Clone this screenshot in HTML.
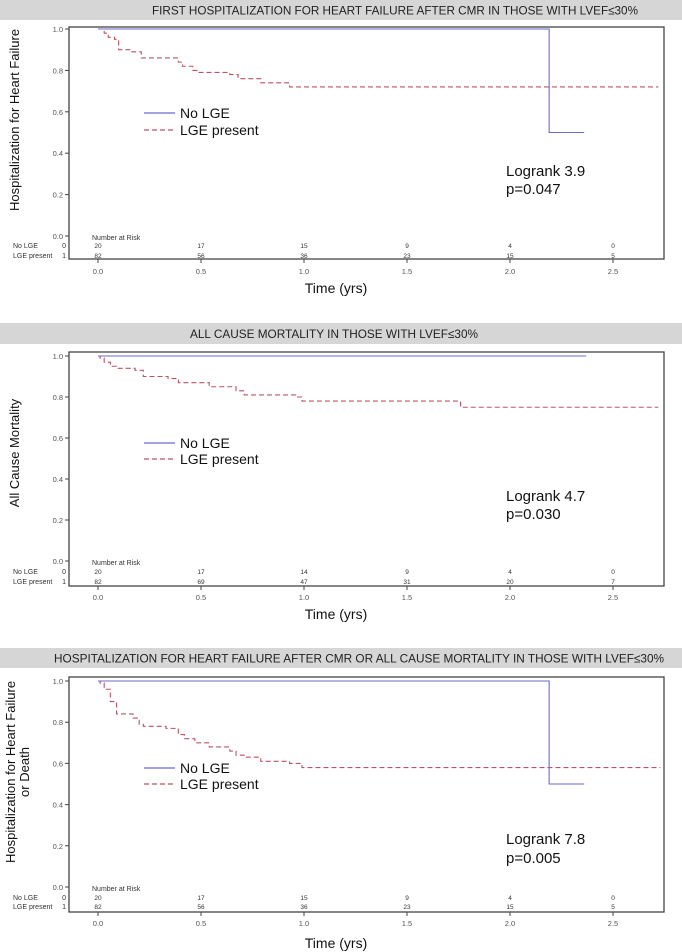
<!DOCTYPE html>
<html><head><meta charset="utf-8"><style>
html,body{margin:0;padding:0;background:#fff}
svg{display:block;font-family:"Liberation Sans",sans-serif}
</style></head><body>
<svg id="s" width="682" height="952" viewBox="0 0 682 952"></svg>
<script>
// ---- Data ----
const xTicks = [0, 0.5, 1.0, 1.5, 2.0, 2.5];
const xTickLabels = ["0.0", "0.5", "1.0", "1.5", "2.0", "2.5"];
const yTicks = [0, 0.2, 0.4, 0.6, 0.8, 1.0];
const yTickLabels = ["0.0", "0.2", "0.4", "0.6", "0.8", "1.0"];
const titles = ["FIRST HOSPITALIZATION FOR HEART FAILURE AFTER CMR IN THOSE WITH LVEF\u226430%", "ALL CAUSE MORTALITY IN THOSE WITH LVEF\u226430%", "HOSPITALIZATION FOR HEART FAILURE AFTER CMR OR ALL CAUSE MORTALITY IN THOSE WITH LVEF\u226430%"];
const yTitles = [["Hospitalization for Heart Failure"], ["All Cause Mortality"], ["Hospitalization for Heart Failure", "or Death"]];
const logranks = ["Logrank 3.9", "Logrank 4.7", "Logrank 7.8"];
const pvals = ["p=0.047", "p=0.030", "p=0.005"];
const riskNoLGE = [[20,17,15,9,4,0],[20,17,14,9,4,0],[20,17,15,9,4,0]];
const riskLGE = [[82,56,36,23,15,5],[82,69,47,31,20,7],[82,56,36,23,15,5]];
const noLgeT = [[0, 2.19, 2.36],[0, 2.37],[0, 2.19, 2.36]];
const noLgeS = [[1.0, 0.5, 0.5],[1.0, 1.0],[1.0, 0.5, 0.5]];
const lgeT1 = [0, 0.03, 0.05, 0.08, 0.10, 0.16, 0.21, 0.39, 0.41, 0.46, 0.48, 0.64, 0.68, 0.79, 0.93, 2.72];
const lgeS1 = [1.0, 0.98, 0.96, 0.95, 0.90, 0.89, 0.86, 0.84, 0.82, 0.80, 0.79, 0.78, 0.76, 0.74, 0.72, 0.72];
const lgeT2 = [0, 0.01, 0.03, 0.06, 0.09, 0.18, 0.22, 0.34, 0.39, 0.54, 0.67, 0.71, 0.96, 0.99, 1.76, 2.72];
const lgeS2 = [1.0, 0.99, 0.97, 0.95, 0.94, 0.93, 0.90, 0.89, 0.87, 0.85, 0.83, 0.81, 0.80, 0.78, 0.75, 0.75];
const lgeT3 = [0, 0.01, 0.03, 0.06, 0.09, 0.17, 0.20, 0.22, 0.33, 0.39, 0.42, 0.47, 0.54, 0.64, 0.67, 0.71, 0.79, 0.93, 0.99, 2.73];
const lgeS3 = [1.0, 0.99, 0.96, 0.90, 0.84, 0.82, 0.79, 0.78, 0.77, 0.74, 0.72, 0.70, 0.68, 0.66, 0.64, 0.63, 0.61, 0.60, 0.58, 0.58];
const lgeT = [lgeT1, lgeT2, lgeT3];
const lgeS = [lgeS1, lgeS2, lgeS3];

// ---- Layout ----
const L = [
 {band:[0,20], frame:[27,259], y1:29, y0:236, leg:[113,130], lr:[171,189], nar:[237,245,255], xl:271, tl:288, yt:120},
 {band:[323,344], frame:[352,586], y1:356, y0:561, leg:[443,459], lr:[496,514], nar:[562,571,581], xl:597, tl:614, yt:453},
 {band:[648,668], frame:[677,912], y1:681, y0:887, leg:[768,784], lr:[839,858], nar:[888,897,906], xl:923, tl:943, yt:772}
];
const NS = "http://www.w3.org/2000/svg";
const svg = document.getElementById('s');
function mk(tag, attrs, parent, text){
  const e = document.createElementNS(NS, tag);
  for (const k in attrs) e.setAttribute(k, attrs[k]);
  if (text !== undefined) e.textContent = text;
  (parent||svg).appendChild(e); return e;
}
const X0 = 98, XPY = 206, FL = 69, FR = 664;
const xs = t => X0 + t * XPY;

L.forEach((g, i) => {
  const grp = mk('g', {});
  
  
  const ys = v => g.y0 + (g.y1 - g.y0) * v;
  const band = mk('rect', {x:0, y:g.band[0], width:682, height:g.band[1]-g.band[0], fill:'#d6d6d6'}, grp);
  
  
  const tt = mk('text', {x:i===1?334:(i===0?395:359), y:(g.band[0]+g.band[1])/2+4.5, 'text-anchor':'middle', 'font-size':12, fill:'#222', textLength:i===0?486:(i===1?288:610), lengthAdjust:'spacingAndGlyphs'}, grp, titles[i]);
  
  
  const fr = mk('rect', {x:FL, y:g.frame[0], width:FR-FL, height:g.frame[1]-g.frame[0], fill:'none', stroke:'#444', 'stroke-width':1.3}, grp);
  
  
  yTicks.forEach((v, k) => {
    mk('line', {x1:FL-4, x2:FL, y1:ys(v), y2:ys(v), stroke:'#444'}, grp);
    const t = mk('text', {x:FL-6, y:ys(v)+3, 'text-anchor':'end', 'font-size':7.5, fill:'#555'}, grp, yTickLabels[k]);
    
    
  });
  xTicks.forEach((v, k) => {
    mk('line', {x1:xs(v), x2:xs(v), y1:g.frame[1], y2:g.frame[1]+4, stroke:'#444'}, grp);
    const t = mk('text', {x:xs(v), y:g.xl+3, 'text-anchor':'middle', 'font-size':7.5, fill:'#555'}, grp, xTickLabels[k]);
    
    
    const a = mk('text', {x:xs(v), y:g.nar[1]+3, 'text-anchor':'middle', 'font-size':6.5, fill:'#333'}, grp, riskNoLGE[i][k]);
    
    
    const b = mk('text', {x:xs(v), y:g.nar[2]+3, 'text-anchor':'middle', 'font-size':6.5, fill:'#333'}, grp, riskLGE[i][k]);
    
    
  });
  const nr = mk('text', {x:92, y:g.nar[0]+3, 'font-size':7, fill:'#333'}, grp, 'Number at Risk');
  
  
  const r1 = mk('text', {x:13, y:g.nar[1]+3, 'font-size':7, fill:'#333'}, grp, 'No LGE');
  
  
  mk('text', {x:66, y:g.nar[1]+3, 'text-anchor':'end', 'font-size':7, fill:'#333'}, grp, '0');
  const r2 = mk('text', {x:13, y:g.nar[2]+3, 'font-size':7, fill:'#333'}, grp, 'LGE present');
  
  
  mk('text', {x:66, y:g.nar[2]+3, 'text-anchor':'end', 'font-size':7, fill:'#333'}, grp, '1');
  const xt = mk('text', {x:336, y:g.tl+5, 'text-anchor':'middle', 'font-size':14, fill:'#111'}, grp, 'Time (yrs)');
  
  
  const lines = yTitles[i];
  lines.forEach((s, k) => {
    const cx = lines.length === 1 ? 19 : 15 + k*14;
    const yt = mk('text', {x:cx, y:g.yt, 'text-anchor':'middle', 'font-size':13, fill:'#111', transform:`rotate(-90 ${cx} ${g.yt})`}, grp, s);
    
    
  });
  function stepPath(T, S){
    let d = `M${xs(T[0])},${ys(S[0])}`;
    for (let k = 1; k < T.length; k++){ d += ` H${xs(T[k])} V${ys(S[k])}`; }
    return d;
  }
  const c1 = mk('path', {d:stepPath(lgeT[i], lgeS[i]), fill:'none', stroke:'#b85464', 'stroke-width':1.1, 'stroke-dasharray':'5,3'}, grp);
  
  
  const c0 = mk('path', {d:stepPath(noLgeT[i], noLgeS[i]), fill:'none', stroke:'#6a6ad0', 'stroke-width':1.1}, grp);
  
  
  mk('line', {x1:144, x2:175, y1:g.leg[0], y2:g.leg[0], stroke:'#6a6ad0', 'stroke-width':1.3}, grp);
  const l1 = mk('text', {x:180, y:g.leg[0]+5, 'font-size':14, fill:'#111'}, grp, 'No LGE');
  
  
  mk('line', {x1:144, x2:175, y1:g.leg[1], y2:g.leg[1], stroke:'#b85464', 'stroke-width':1.2, 'stroke-dasharray':'5,3'}, grp);
  const l2 = mk('text', {x:180, y:g.leg[1]+5, 'font-size':14, fill:'#111'}, grp, 'LGE present');
  
  
  const lr = mk('text', {x:506, y:g.lr[0]+5, 'font-size':15, fill:'#111'}, grp, logranks[i]);
  
  
  const pv = mk('text', {x:506, y:g.lr[1]+5, 'font-size':15, fill:'#111'}, grp, pvals[i]);
  
  
});
</script>
</body></html>
